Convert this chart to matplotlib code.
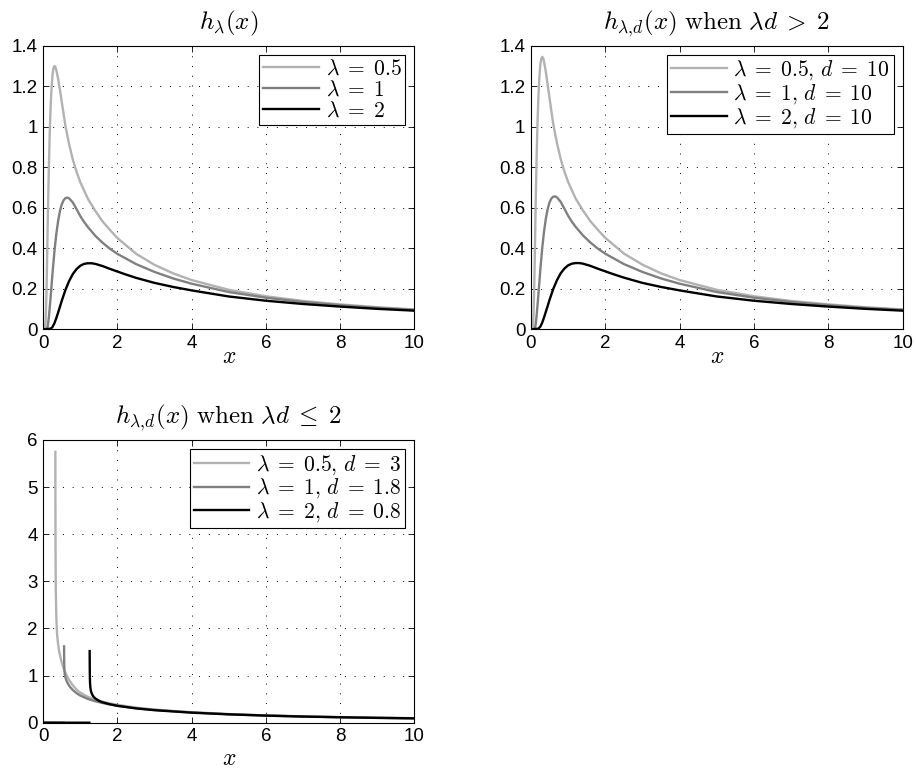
import numpy as np
import matplotlib
matplotlib.use("Agg")
import matplotlib.pyplot as plt
from matplotlib.ticker import FuncFormatter

plt.rcParams['mathtext.fontset'] = 'cm'
plt.rcParams['font.family'] = ['Liberation Sans', 'DejaVu Sans']

# ---------------- data ----------------
# Panel 1: h_lambda(x)
p1_x05 = [0, 0.04, 0.05, 0.0625, 0.075, 0.0875, 0.1, 0.125, 0.15, 0.175, 0.2, 0.225, 0.25, 0.275,
          0.3, 0.325, 0.35, 0.4, 0.45, 0.5, 0.55, 0.6, 0.7, 0.8, 0.9, 1.0, 1.2, 1.4, 1.6, 1.8, 2.0,
          2.5, 3.0, 3.5, 4.0, 5.0, 6.0, 7.0, 8.0, 9.0, 10.0]
p1_y05 = [0, 0, 0.01, 0.04, 0.11, 0.2, 0.32, 0.58, 0.8, 0.98, 1.11, 1.2, 1.26, 1.29,
          1.30, 1.295, 1.28, 1.236, 1.18, 1.12, 1.06, 1.0, 0.91, 0.835, 0.775, 0.725, 0.645, 0.585,
          0.532, 0.49, 0.45, 0.373, 0.318, 0.276, 0.243, 0.195, 0.163, 0.14, 0.123, 0.109, 0.098]
p1_x1 = [0, 0.1, 0.125, 0.15, 0.175, 0.2, 0.25, 0.3, 0.35, 0.4, 0.45, 0.5, 0.55, 0.6, 0.65, 0.7,
         0.8, 0.9, 1.0, 1.1, 1.2, 1.4, 1.6, 1.8, 2.0, 2.5, 3.0, 3.5, 4.0, 5.0, 6.0, 7.0, 8.0, 9.0,
         10.0]
p1_y1 = [0, 0, 0.02, 0.06, 0.11, 0.165, 0.28, 0.385, 0.47, 0.535, 0.585, 0.618, 0.638, 0.648,
         0.65, 0.646, 0.625, 0.592, 0.558, 0.53, 0.505, 0.462, 0.427, 0.397, 0.372, 0.322, 0.283,
         0.251, 0.225, 0.184, 0.156, 0.135, 0.119, 0.106, 0.096]
p1_x2 = [0, 0.2, 0.25, 0.3, 0.35, 0.4, 0.45, 0.5, 0.6, 0.7, 0.8, 0.9, 1.0, 1.1, 1.2, 1.3, 1.4,
         1.6, 1.8, 2.0, 2.2, 2.5, 3.0, 3.5, 4.0, 5.0, 6.0, 7.0, 8.0, 9.0, 10.0]
p1_y2 = [0, 0.003, 0.012, 0.03, 0.055, 0.083, 0.112, 0.142, 0.196, 0.24, 0.274, 0.298, 0.314,
         0.323, 0.326, 0.326, 0.323, 0.312, 0.298, 0.285, 0.272, 0.254, 0.229, 0.209, 0.192,
         0.162, 0.141, 0.125, 0.112, 0.101, 0.092]

# Panel 2: h_{lambda,d}(x), lambda*d > 2
p2_x05 = p1_x05
p2_y05 = [0, 0, 0.01, 0.045, 0.12, 0.215, 0.34, 0.61, 0.84, 1.02, 1.15, 1.245, 1.305, 1.335,
          1.345, 1.34, 1.322, 1.27, 1.205, 1.14, 1.075, 1.012, 0.918, 0.84, 0.778, 0.727, 0.646,
          0.586, 0.533, 0.491, 0.451, 0.374, 0.319, 0.276, 0.243, 0.195, 0.163, 0.14, 0.123,
          0.109, 0.098]
p2_x1 = p1_x1
p2_y1 = [0, 0, 0.022, 0.065, 0.118, 0.175, 0.292, 0.397, 0.482, 0.547, 0.595, 0.628, 0.646, 0.655,
         0.656, 0.651, 0.629, 0.595, 0.56, 0.531, 0.506, 0.463, 0.428, 0.398, 0.373, 0.322, 0.283,
         0.251, 0.225, 0.184, 0.156, 0.135, 0.119, 0.106, 0.096]
p2_x2 = p1_x2
p2_y2 = [0, 0.003, 0.013, 0.032, 0.058, 0.087, 0.116, 0.146, 0.2, 0.243, 0.277, 0.3, 0.316,
         0.324, 0.327, 0.327, 0.324, 0.313, 0.299, 0.286, 0.273, 0.255, 0.229, 0.209, 0.192,
         0.162, 0.141, 0.125, 0.112, 0.101, 0.092]

# Panel 3: h_{lambda,d}(x), lambda*d <= 2  (zero part up to zero_end, then the curve)
p3_zero_end = [0.32, 0.55, 1.24]
p3_x05 = [0.325, 0.326, 0.328, 0.33, 0.333, 0.337, 0.345, 0.355, 0.37, 0.39, 0.42, 0.45, 0.5,
          0.55, 0.6, 0.7, 0.8, 0.9, 1.0, 1.2, 1.4, 1.6, 1.8, 2.0, 2.5, 3.0, 3.5, 4.0, 5.0, 6.0,
          7.0, 8.0, 9.0, 10.0]
p3_y05 = [5.75, 5.0, 4.3, 3.7, 3.2, 2.8, 2.45, 2.15, 1.9, 1.72, 1.55, 1.43, 1.27, 1.15, 1.05,
          0.9, 0.79, 0.70, 0.635, 0.55, 0.49, 0.445, 0.41, 0.38, 0.32, 0.278, 0.247, 0.222,
          0.183, 0.155, 0.135, 0.119, 0.106, 0.096]
p3_x1 = [0.56, 0.561, 0.563, 0.566, 0.57, 0.58, 0.6, 0.63, 0.67, 0.72, 0.8, 0.9, 1.0, 1.2, 1.4,
         1.7, 2.0, 2.5, 3.0, 4.0, 5.0, 6.0, 7.0, 8.0, 9.0, 10.0]
p3_y1 = [1.62, 1.45, 1.3, 1.18, 1.1, 1.02, 0.95, 0.88, 0.82, 0.76, 0.69, 0.625, 0.575, 0.505,
         0.455, 0.4, 0.36, 0.31, 0.272, 0.218, 0.18, 0.153, 0.132, 0.117, 0.104, 0.094]
p3_x2 = [1.25, 1.251, 1.253, 1.256, 1.26, 1.27, 1.285, 1.31, 1.35, 1.4, 1.5, 1.6, 1.8, 2.0, 2.5,
         3.0, 4.0, 5.0, 6.0, 7.0, 8.0, 9.0, 10.0]
p3_y2 = [1.52, 1.3, 1.1, 0.95, 0.84, 0.74, 0.67, 0.61, 0.555, 0.515, 0.465, 0.432, 0.39, 0.358,
         0.303, 0.265, 0.213, 0.177, 0.15, 0.13, 0.115, 0.102, 0.092]

titles = [r'$h_{\lambda}(x)$',
          r'$h_{\lambda,\!d}(x)\ \mathrm{when}\ \lambda d\;>\;2$',
          r'$h_{\lambda,\!d}(x)\ \mathrm{when}\ \lambda d\;\leq\;2$']
labels1 = [r'$\lambda\;=\;0.5$', r'$\lambda\;=\;1$', r'$\lambda\;=\;2$']
labels2 = [r'$\lambda\;=\;0.5,\,d\;=\;10$', r'$\lambda\;=\;1,\,d\;=\;10$',
           r'$\lambda\;=\;2,\,d\;=\;10$']
labels3 = [r'$\lambda\;=\;0.5,\,d\;=\;3$', r'$\lambda\;=\;1,\,d\;=\;1.8$',
           r'$\lambda\;=\;2,\,d\;=\;0.8$']
xticks = [0, 2, 4, 6, 8, 10]
yticks_top = [0, 0.2, 0.4, 0.6, 0.8, 1.0, 1.2, 1.4]
yticks_bot = [0, 1, 2, 3, 4, 5, 6]

colors = ['#b2b2b2', '#808080', '#000000']
LW = 1.7

fig = plt.figure(figsize=(9.16, 7.72), dpi=100)
W, H = 916, 772
def ax_at(l, t, r, b):
    return fig.add_axes([l / W, 1 - b / H, (r - l) / W, (b - t) / H])

ax1 = ax_at(43.3, 45.7, 414.3, 329.3)
ax2 = ax_at(531, 45.7, 902.7, 329.3)
ax3 = ax_at(43.3, 440, 414.3, 722.7)

fmt = FuncFormatter(lambda v, p: '%g' % v)

def style(ax, yticks, ylim, title, xlpad):
    ax.set_xlim(0, 10)
    ax.set_ylim(*ylim)
    ax.set_xticks(xticks)
    ax.set_yticks(yticks)
    ax.xaxis.set_major_formatter(fmt)
    ax.yaxis.set_major_formatter(fmt)
    ax.tick_params(direction='in', top=True, right=True, length=4, width=0.6,
                   labelsize=13.5, pad=4)
    ax.grid(True, color='black', linestyle=(0, (1, 9)), linewidth=0.7)
    for s in ax.spines.values():
        s.set_linewidth(0.8)
    ax.set_title(title, fontsize=18, pad=12)
    ax.set_xlabel(r'$x$', fontsize=17, labelpad=xlpad)

def legend(ax, labels):
    leg = ax.legend(labels=labels, loc='upper right', fontsize=15.5, fancybox=False,
                    framealpha=1, edgecolor='black', borderpad=0.18, labelspacing=0.0,
                    handlelength=2.6, handletextpad=0.3, borderaxespad=0.42)
    leg.get_frame().set_linewidth(0.8)

# Panel 1
ax1.plot(p1_x05, p1_y05, color=colors[0], lw=LW)
ax1.plot(p1_x1, p1_y1, color=colors[1], lw=LW)
ax1.plot(p1_x2, p1_y2, color=colors[2], lw=LW)
style(ax1, yticks_top, (0, 1.4), titles[0], -4)
legend(ax1, labels1)

# Panel 2
ax2.plot(p2_x05, p2_y05, color=colors[0], lw=LW)
ax2.plot(p2_x1, p2_y1, color=colors[1], lw=LW)
ax2.plot(p2_x2, p2_y2, color=colors[2], lw=LW)
style(ax2, yticks_top, (0, 1.4), titles[1], -4)
legend(ax2, labels2)

# Panel 3
series3 = [(p3_x05, p3_y05), (p3_x1, p3_y1), (p3_x2, p3_y2)]
for (xs, ys), z_end, c in zip(series3, p3_zero_end, colors):
    xx = [0, z_end, np.nan] + list(xs)
    yy = [0, 0, np.nan] + list(ys)
    ax3.plot(xx, yy, color=c, lw=LW)
style(ax3, yticks_bot, (0, 6), titles[2], 2)
legend(ax3, labels3)

fig.savefig('out.png', dpi=100)
